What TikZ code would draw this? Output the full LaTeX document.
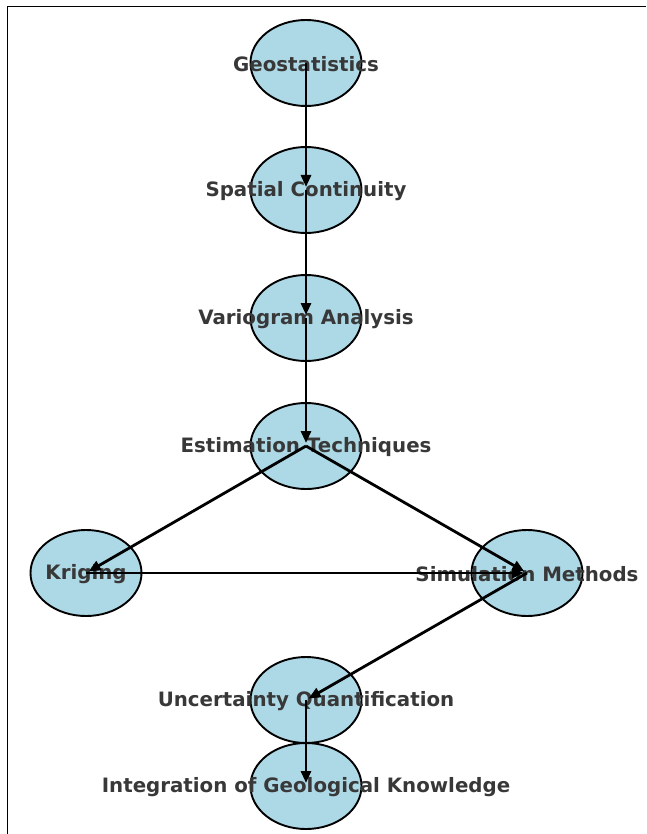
\documentclass[tikz,border=0pt]{standalone}
\usepackage{fontspec}
\setmainfont{DejaVu Sans}
\usetikzlibrary{arrows.meta,shapes.geometric}
\definecolor{nodefill}{HTML}{ADD8E6}
\definecolor{labelgray}{HTML}{383838}
\tikzset{
  ell/.style={ellipse, draw=black, line width=1.9pt, fill=nodefill, minimum width=111pt, minimum height=86pt, inner sep=0pt},
  lbl/.style={text=labelgray, font=\fontsize{19.8}{23}\selectfont\bfseries, inner sep=0pt, anchor=center, yshift=-1.5pt},
  edge/.style={line width=2.8pt, draw=black, -{Triangle[length=12pt,width=10pt]}, shorten >=3pt},
  frame/.style={line width=1pt, draw=black}
}
\begin{document}
\begin{tikzpicture}[x=1pt,y=-1pt]
\useasboundingbox (0,0) rectangle (646,834);
\coordinate (fa) at (7,834);
\coordinate (fb) at (7,7);
\coordinate (fc) at (646,7);
\draw[frame] (fa) -- (fb) -- (fc);
% ellipses
\node[ell] (geo) at (306,63) {};
\node[ell] (spa) at (306,190) {};
\node[ell] (var) at (306,318) {};
\node[ell] (est) at (306,446) {};
\node[ell] (kri) at (86,573) {};
\node[ell] (sim) at (527,573) {};
\node[ell] (unc) at (306,700) {};
\node[ell] (int) at (306,786) {};
% labels
\node[lbl] (geoL) at (geo.center) {Geostatistics};
\node[lbl] (spaL) at (spa.center) {Spatial Continuity};
\node[lbl] (varL) at (var.center) {Variogram Analysis};
\node[lbl] (estL) at (est.center) {Estimation Techniques};
\node[lbl] (kriL) at (kri.center) {Kriging};
\node[lbl] (simL) at (sim.center) {Simulation Methods};
\node[lbl] (uncL) at (unc.center) {Uncertainty Quantification};
\node[lbl] (intL) at (int.center) {Integration of Geological Knowledge};
% edges
\draw[edge] (geo.center) -- (spa.center);
\draw[edge] (spa.center) -- (var.center);
\draw[edge] (var.center) -- (est.center);
\draw[edge] (est.center) -- (kri.center);
\draw[edge] (est.center) -- (sim.center);
\draw[edge] (kri.center) -- (sim.center);
\draw[edge] (sim.center) -- (unc.center);
\draw[edge] (unc.center) -- (int.center);
\end{tikzpicture}
\end{document}
